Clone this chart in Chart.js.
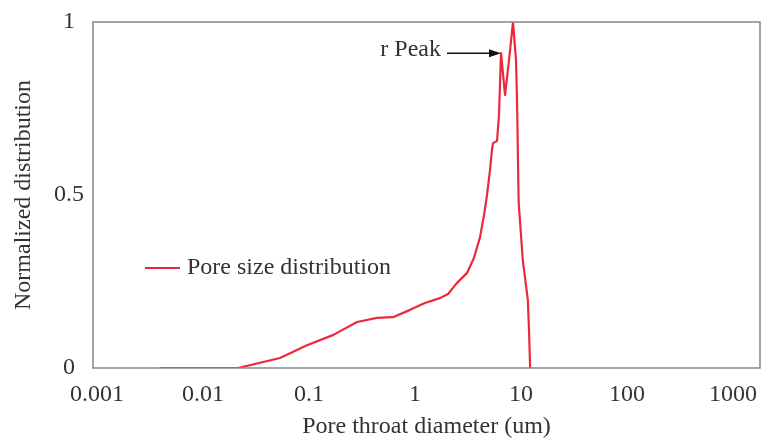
<!DOCTYPE html>
<html>
<head>
<meta charset="utf-8">
<script src="https://cdn.jsdelivr.net/npm/chart.js@4.4.1/dist/chart.umd.min.js"></script>
<style>
  html, body { margin: 0; padding: 0; background: #fff; }
  canvas { display: block; }
</style>
</head>
<body>
<canvas id="psd" width="763" height="438"></canvas>
<script>
// Pore throat diameter (um) and normalized distribution
const diameter = [0.0039, 0.0214, 0.0532, 0.0957, 0.168, 0.284, 0.438, 0.620, 0.898, 1.24, 1.72, 2.05, 2.49, 3.10, 3.60,
  4.11, 4.48, 4.78, 5.10, 5.32, 5.45, 5.94, 6.20, 6.48, 7.07, 7.71, 8.41, 8.97, 9.17, 9.50, 10.4, 11.6, 11.9, 12.2];
const distribution = [0, 0, 0.029, 0.066, 0.095, 0.133, 0.145, 0.147, 0.168, 0.188, 0.202, 0.214, 0.246, 0.275, 0.318,
  0.379, 0.442, 0.500, 0.572, 0.630, 0.650, 0.656, 0.731, 0.910, 0.789, 0.890, 1.0, 0.89, 0.775, 0.480, 0.312, 0.197, 0.110, 0];

const xTicks = [0.001, 0.01, 0.1, 1, 10, 100, 1000];
const xTickLabels = ['0.001', '0.01', '0.1', '1', '10', '100', '1000'];
const yTicks = [0, 0.5, 1];
const yTickLabels = ['0', '0.5', '1'];

const seriesLabel = 'Pore size distribution';
const peakLabel = 'r Peak';
const peakPoint = { x: 6.48, y: 0.91 };

const serif = "'Liberation Serif', 'Times New Roman', serif";
const textColor = '#333';
const lineColor = '#ea2a3c';
const fontSize = 24;

// plot frame + legend + arrow annotation
const extras = {
  id: 'extras',
  afterDatasetsDraw(chart) {
    const { ctx, chartArea: a, scales } = chart;
    ctx.save();
    ctx.strokeStyle = '#858585';
    ctx.lineWidth = 1.5;
    ctx.strokeRect(a.left, a.top, a.right - a.left, a.bottom - a.top);

    // legend inside the plot
    ctx.strokeStyle = lineColor;
    ctx.lineWidth = 2;
    ctx.beginPath();
    ctx.moveTo(145, 268);
    ctx.lineTo(180, 268);
    ctx.stroke();
    ctx.fillStyle = textColor;
    ctx.font = fontSize + 'px ' + serif;
    ctx.textBaseline = 'middle';
    ctx.textAlign = 'left';
    ctx.fillText(seriesLabel, 187, 268);

    // r Peak arrow
    const tx = scales.x.getPixelForValue(peakPoint.x);
    const ty = scales.y.getPixelForValue(peakPoint.y);
    ctx.textAlign = 'right';
    ctx.fillText(peakLabel, 441, ty - 3);
    ctx.strokeStyle = '#111';
    ctx.fillStyle = '#111';
    ctx.lineWidth = 1.5;
    ctx.beginPath();
    ctx.moveTo(447, ty);
    ctx.lineTo(tx - 10, ty);
    ctx.stroke();
    ctx.beginPath();
    ctx.moveTo(tx, ty);
    ctx.lineTo(tx - 12, ty - 4);
    ctx.lineTo(tx - 12, ty + 4);
    ctx.closePath();
    ctx.fill();
    ctx.restore();
  }
};

new Chart(document.getElementById('psd'), {
  type: 'line',
  data: {
    datasets: [{
      label: seriesLabel,
      data: diameter.map((d, i) => ({ x: d, y: distribution[i] })),
      borderColor: lineColor,
      borderWidth: 2.2,
      borderJoinStyle: 'round',
      pointRadius: 0,
      tension: 0,
      fill: false
    }]
  },
  options: {
    responsive: false,
    animation: false,
    devicePixelRatio: 1,
    layout: { padding: { top: 22, right: 3, left: 0, bottom: 0 } },
    plugins: { legend: { display: false }, tooltip: { enabled: false } },
    scales: {
      x: {
        type: 'logarithmic',
        min: Math.pow(10, -3 - 4 / 106),
        max: Math.pow(10, 3 + 27 / 106),
        grid: { display: false, drawTicks: false },
        border: { display: false },
        afterBuildTicks: s => { s.ticks = xTicks.map(v => ({ value: v })); },
        afterFit: s => { s.height = 70; s.paddingLeft = 0; s.paddingRight = 0; },
        ticks: {
          autoSkip: false,
          maxRotation: 0,
          padding: 12,
          color: textColor,
          font: { family: serif, size: fontSize },
          callback: (v) => xTickLabels[xTicks.indexOf(v)] ?? ''
        },
        title: {
          display: true,
          text: 'Pore throat diameter (um)',
          color: textColor,
          font: { family: serif, size: fontSize },
          padding: { top: 0, bottom: -3 }
        }
      },
      y: {
        min: 0,
        max: 1,
        grid: { display: false, drawTicks: false },
        border: { display: false },
        afterBuildTicks: s => { s.ticks = yTicks.map(v => ({ value: v })); },
        afterFit: s => { s.width = 93; s.paddingTop = 0; s.paddingBottom = 0; },
        ticks: {
          crossAlign: 'center',
          padding: 9,
          color: textColor,
          font: { family: serif, size: fontSize },
          callback: (v) => yTickLabels[yTicks.indexOf(v)] ?? ''
        },
        title: {
          display: true,
          text: 'Normalized distribution',
          color: textColor,
          font: { family: serif, size: fontSize },
          padding: { top: 9, bottom: 0 }
        }
      }
    }
  },
  plugins: [extras]
});
</script>
</body>
</html>
